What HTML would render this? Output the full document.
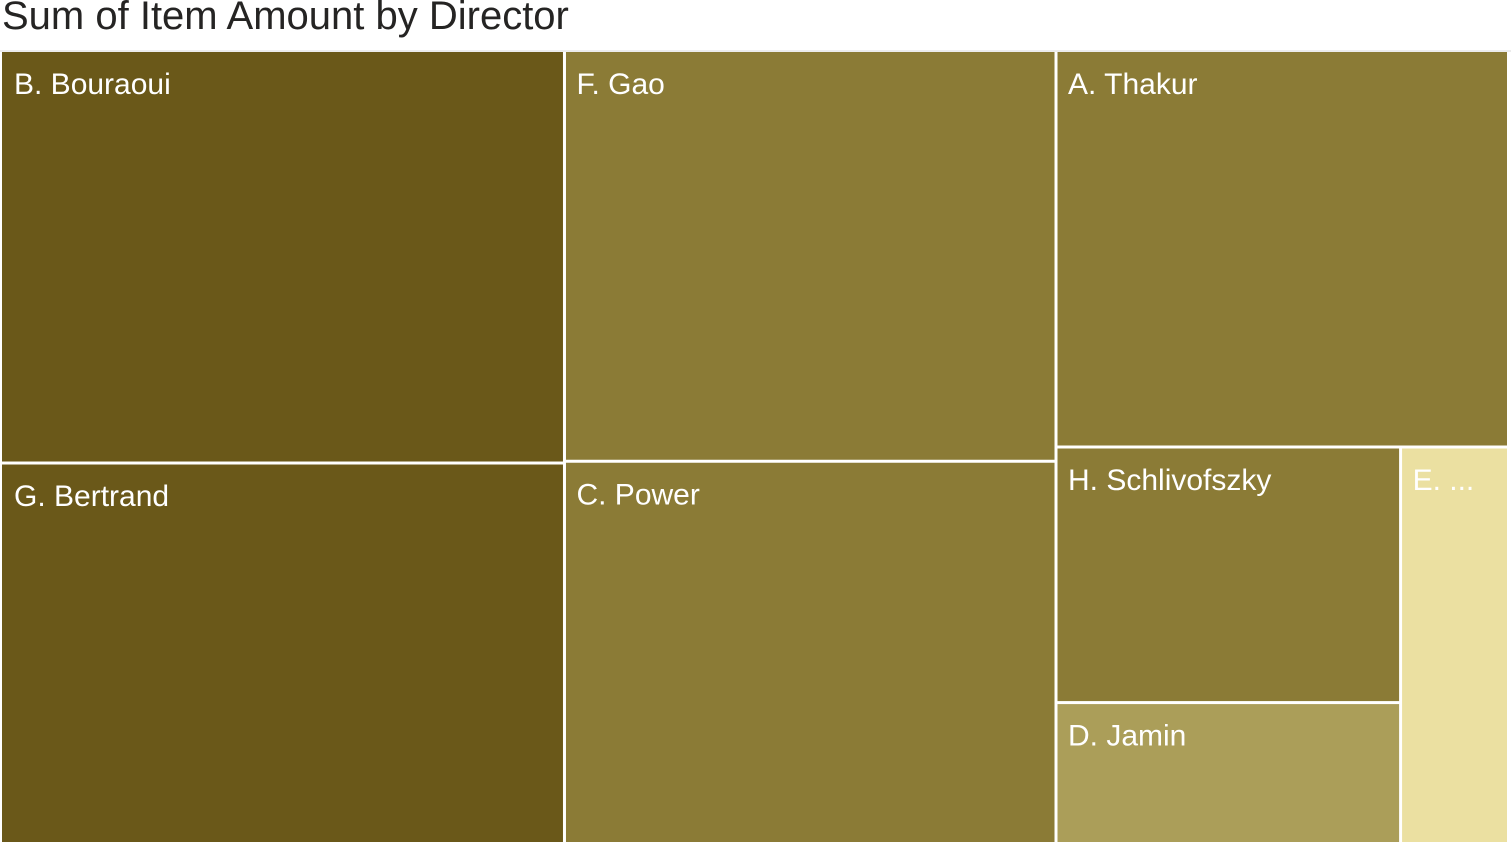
<!DOCTYPE html>
<html><head><meta charset="utf-8"><style>
html,body{margin:0;padding:0;background:#fff;width:1511px;height:846px;overflow:hidden;font-family:"Liberation Sans",sans-serif}
#title{position:absolute;left:2px;top:-6px;font-size:40px;color:#252423;white-space:nowrap}
svg{position:absolute;left:0;top:0}
</style></head><body>
<div id="title">Sum of Item Amount by Director</div>
<svg id="chart" width="1511" height="846">
<line x1="0" y1="51" x2="1511" y2="51" stroke="#d8d8d8" stroke-width="1"/>
</svg>
<script>
const names=["B. Bouraoui","G. Bertrand","F. Gao","C. Power","A. Thakur","H. Schlivofszky","D. Jamin","E. ..."];
const values=[231,213,201,187,178,88,48,42];
const colors=["#6A5819","#6A5819","#8B7B36","#8B7B36","#8B7B36","#8B7B36","#AB9E59","#EBE0A1"];
const X0=2,Y0=52,W=1505,H=790,G=3;
const svg=document.getElementById('chart');
const NS='http://www.w3.org/2000/svg';
const rects=[];
const total=values.reduce((a,b)=>a+b,0);
const c1=values[0]+values[1],c2=values[2]+values[3],c3=total-c1-c2;
let x=X0;
const w1=W*c1/total,w2=W*c2/total,w3=W*c3/total;
let h=H*values[0]/c1; rects.push([0,x,Y0,w1,h]); rects.push([1,x,Y0+h,w1,H-h]);
x+=w1;
h=H*values[2]/c2; rects.push([2,x,Y0,w2,h]); rects.push([3,x,Y0+h,w2,H-h]);
x+=w2;
h=H*values[4]/c3; rects.push([4,x,Y0,w3,h]);
const bh=H-h,by=Y0+h,bs=values[5]+values[6]+values[7];
const we=w3*values[7]/bs,wh=w3-we;
const hh=bh*values[5]/(values[5]+values[6]);
rects.push([5,x,by,wh,hh]); rects.push([6,x,by+hh,wh,bh-hh]); rects.push([7,x+wh,by,we,bh]);
rects.forEach(([i,rx,ry,rw,rh])=>{
  const g=document.createElementNS(NS,'g');
  
  
  const r=document.createElementNS(NS,'rect');
  r.setAttribute('x',rx+(rx>X0?G/2:0));r.setAttribute('y',ry+(ry>Y0?G/2:0));
  r.setAttribute('width',Math.max(0,rw-(rx>X0?G/2:0)-(rx+rw<X0+W-1?G/2:0)));
  r.setAttribute('height',Math.max(0,rh-(ry>Y0?G/2:0)-(ry+rh<Y0+H-1?G/2:0)));
  r.setAttribute('fill',colors[i]);
  g.appendChild(r);
  const t=document.createElementNS(NS,'text');
  t.setAttribute('x',rx+12);t.setAttribute('y',ry+(ry>Y0?43:42));
  t.setAttribute('fill','#fff');t.setAttribute('font-size','30');
  t.setAttribute('font-family','"Liberation Sans",sans-serif');
  t.textContent=names[i];
  g.appendChild(t);
  svg.appendChild(g);
});
</script>
</body></html>
